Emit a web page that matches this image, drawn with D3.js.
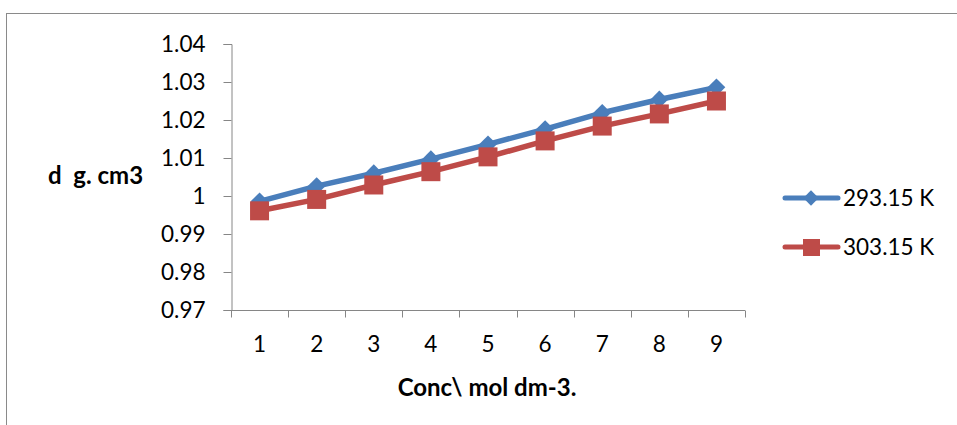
<!DOCTYPE html>
<html>
<head>
<meta charset="utf-8">
<script src="https://cdn.jsdelivr.net/npm/d3@7"></script>
<style>
  html, body { margin: 0; padding: 0; background: #fff; }
  svg { display: block; font-family: Lato, "Open Sans", sans-serif; }
</style>
</head>
<body>
<svg id="chart" width="957" height="425"></svg>
<script>
// Concentration index (x) and density (g cm^-3) at two temperatures
const categories = [1, 2, 3, 4, 5, 6, 7, 8, 9];
const series293 = [0.9986, 1.0026, 1.0060, 1.0097, 1.0136, 1.0176, 1.0219, 1.0254, 1.0286];
const series303 = [0.9961, 0.9991, 1.0029, 1.0064, 1.0103, 1.0145, 1.0184, 1.0216, 1.0250];
const seriesNames = ["293.15 K", "303.15 K"];
const yTicks = [0.97, 0.98, 0.99, 1.00, 1.01, 1.02, 1.03, 1.04];

const colors = ["#4a7ebb", "#be4b48"];
const axisColor = "#868686";
const labelSize = 22.5;
const titleSize = 24;
const svg = d3.select("#chart");

// chart frame
svg.append("rect")
  .attr("x", 6.5).attr("y", 13.5)
  .attr("width", 980).attr("height", 430)
  .attr("fill", "none").attr("stroke", "#8a8a8a").attr("stroke-width", 1);

const plotLeft = 231, plotRight = 745, plotTop = 44, plotBottom = 310;

const x = d3.scaleBand().domain(categories).range([plotLeft, plotRight]);
const y = d3.scaleLinear().domain([0.97, 1.04]).range([plotBottom, plotTop]);

// y axis
const yAxis = svg.append("g")
  .attr("transform", `translate(${plotLeft + 0.5},0)`)
  .call(d3.axisLeft(y).tickValues(yTicks).tickSize(8).tickPadding(18)
    .tickFormat(d => String(+d.toFixed(2))));
yAxis.select(".domain").attr("stroke", axisColor);
yAxis.selectAll(".tick line").attr("stroke", axisColor);
yAxis.selectAll("text").attr("font-size", labelSize).attr("fill", "#000")
  .attr("font-family", "Lato, sans-serif");

// x axis with ticks on category boundaries
const xAxis = svg.append("g").attr("transform", `translate(0,${plotBottom + 0.5})`);
xAxis.append("line").attr("x1", plotLeft).attr("x2", plotRight)
  .attr("stroke", axisColor);
const bounds = categories.map(c => x(c)).concat([plotRight]);
xAxis.selectAll("line.tk").data(bounds).join("line")
  .attr("class", "tk")
  .attr("x1", d => Math.round(d) + 0.5).attr("x2", d => Math.round(d) + 0.5)
  .attr("y1", 0).attr("y2", 7).attr("stroke", axisColor);
xAxis.selectAll("text").data(categories).join("text")
  .attr("x", d => x(d) + x.bandwidth() / 2)
  .attr("y", 41)
  .attr("text-anchor", "middle")
  .attr("font-size", labelSize)
  .text(d => d);

// axis titles
svg.append("text")
  .attr("x", 48).attr("y", 184)
  .attr("font-size", titleSize).attr("font-weight", "bold")
  .style("white-space", "pre")
  .text("d  g. cm3");
svg.append("text")
  .attr("x", 487).attr("y", 396)
  .attr("text-anchor", "middle")
  .attr("font-size", titleSize).attr("font-weight", "bold")
  .text("Conc\\ mol dm-3.");

// series
const line = d3.line()
  .x((d, i) => x(categories[i]) + x.bandwidth() / 2)
  .y(d => y(d));

const allSeries = [series293, series303];
const diamond = d3.symbol().type(d3.symbolDiamond2);

allSeries.forEach((vals, si) => {
  svg.append("path")
    .datum(vals)
    .attr("d", line)
    .attr("fill", "none")
    .attr("stroke", colors[si])
    .attr("stroke-width", 5.5)
    .attr("stroke-linejoin", "round")
    .attr("stroke-linecap", "round");
  const g = svg.append("g");
  vals.forEach((v, i) => {
    const cx = x(categories[i]) + x.bandwidth() / 2;
    const cy = y(v);
    if (si === 0) {
      g.append("path")
        .attr("d", diamond.size(200)())
        .attr("transform", `translate(${cx},${cy})`)
        .attr("fill", colors[si]);
    } else {
      g.append("rect")
        .attr("x", cx - 9.5).attr("y", cy - 9.5)
        .attr("width", 19).attr("height", 19)
        .attr("fill", colors[si]);
    }
  });
});

// legend
const legendY = [198, 247];
seriesNames.forEach((name, si) => {
  const g = svg.append("g");
  g.append("line")
    .attr("x1", 785).attr("x2", 838)
    .attr("y1", legendY[si]).attr("y2", legendY[si])
    .attr("stroke", colors[si]).attr("stroke-width", 5)
    .attr("stroke-linecap", "round");
  if (si === 0) {
    g.append("path")
      .attr("d", diamond.size(150)())
      .attr("transform", `translate(811,${legendY[si]})`)
      .attr("fill", colors[si]);
  } else {
    g.append("rect")
      .attr("x", 803).attr("y", legendY[si] - 8)
      .attr("width", 17).attr("height", 17)
      .attr("fill", colors[si]);
  }
  g.append("text")
    .attr("x", 843).attr("y", legendY[si] + 8)
    .attr("font-size", labelSize)
    .text(name);
});
</script>
</body>
</html>
